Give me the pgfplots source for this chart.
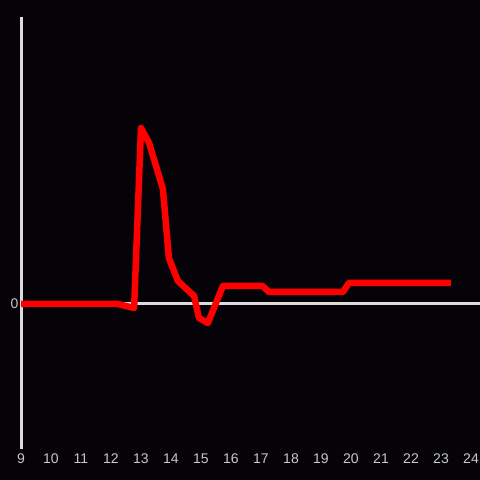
\documentclass[border=0pt]{standalone}
\usepackage{pgfplots}
\pgfplotsset{compat=1.18}
\usepackage{fontspec}
\setmainfont{Liberation Sans}
\definecolor{bg}{HTML}{050308}
\definecolor{axisgray}{HTML}{DCDCDC}
\definecolor{labgray}{HTML}{C8C8C8}
\begin{document}
\begin{tikzpicture}[x=1pt,y=1pt]
\fill[bg] (0,0) rectangle (480,480);
\begin{axis}[
  at={(21pt,31pt)}, anchor=south west,
  scale only axis, width=459pt, height=432pt,
  xmin=9, xmax=24.3, ymin=-145, ymax=287,
  axis line style={draw=none},
  xtick={9,10,...,24},
  ytick={0},
  major tick length=0pt,
  tick label style={font=\fontsize{14}{16}\selectfont, text=labgray},
  /pgf/number format/assume math mode=true,
  xticklabel style={yshift=-1pt},
  yticklabel style={xshift=1pt},
  clip=false,
]
\addplot[axisgray, line width=3pt, forget plot] coordinates {(9,0) (24.3,0)};
\draw[axisgray, line width=3pt] (axis cs:9,-145) -- (axis cs:9,287);
\addplot[red, line width=6.5pt, line join=round, no marks] coordinates {
(9,0) (12.23,0) (12.77,-4) (13.0,176) (13.27,161) (13.73,115) (13.93,46)
(14.23,23) (14.77,8) (14.93,-14) (15.23,-19) (15.73,18) (17.05,18)
(17.27,12) (19.73,12) (19.93,21) (23.33,21)
};
\end{axis}
\pgfresetboundingbox
\useasboundingbox (0,0) rectangle (480,480);
\end{tikzpicture}
\end{document}
